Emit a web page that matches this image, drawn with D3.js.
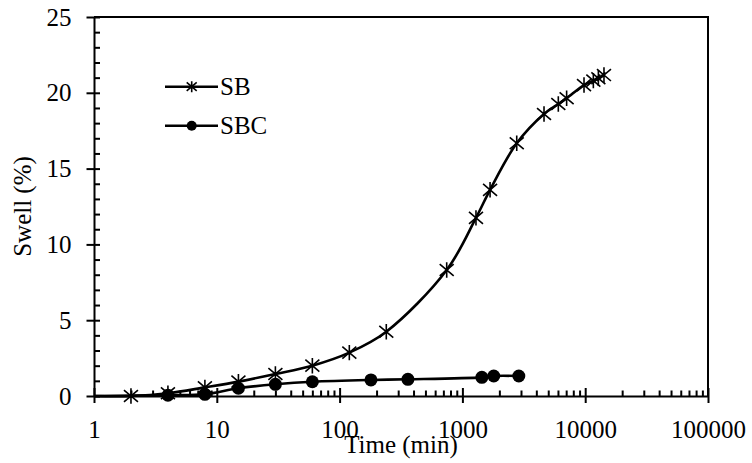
<!DOCTYPE html>
<html>
<head>
<meta charset="utf-8">
<script src="https://cdn.jsdelivr.net/npm/d3@7"></script>
<style>
  body { margin: 0; background: #fff; }
  svg text { font-family: 'Liberation Serif', 'Times New Roman', Tinos, 'DejaVu Serif', serif; fill: #000; }
</style>
</head>
<body>
<div id="vis"></div>
<script>
// values (time in min, swell in %)
const sbTime = [1, 2, 4, 8, 15, 30, 60, 120, 240, 745, 1290, 1680, 2770, 4620, 6040, 7060, 9780, 11650, 12800, 14220];
const sbSwell = [0, 0, 0.18, 0.57, 0.95, 1.45, 2.0, 2.86, 4.24, 8.31, 11.75, 13.6, 16.67, 18.6, 19.26, 19.64, 20.51, 20.8, 20.96, 21.17];
const sbcTime = [1, 4, 8, 15, 30, 60, 180, 360, 1440, 1800, 2880];
const sbcSwell = [0, 0.05, 0.11, 0.51, 0.77, 0.94, 1.06, 1.10, 1.23, 1.32, 1.32];

const xTicks = [1, 10, 100, 1000, 10000, 100000];
const yTicks = [0, 5, 10, 15, 20, 25];
const seriesNames = ["SB", "SBC"];

const serif = "Liberation Serif, Times New Roman, Tinos, DejaVu Serif, serif";

function createVis() {
  const width = 752;
  const height = 463;
  const margin = { top: 17, right: 44, bottom: 67, left: 94 };

  const svg = d3.select("#vis")
    .append("svg")
    .attr("width", width)
    .attr("height", height)
    .attr("viewBox", [0, 0, width, height])
    .attr("font-family", serif);

  const x = d3.scaleLog()
    .domain([1, 100000])
    .range([margin.left, width - margin.right]);

  const y = d3.scaleLinear()
    .domain([0, 25])
    .range([height - margin.bottom, margin.top]);

  const fontSize = 25;

  // frame: top and right border
  svg.append("path")
    .attr("d", `M${x(1)},${y(25)}H${x(100000)}V${y(0)}`)
    .attr("fill", "none")
    .attr("stroke", "#000")
    .attr("stroke-width", 2);

  // minor ticks
  const xMinor = [];
  for (let d = 1; d < 100000; d *= 10) {
    for (let k = 2; k <= 9; k++) xMinor.push(d * k);
  }
  svg.append("g")
    .attr("transform", `translate(0,${y(0)})`)
    .call(d3.axisBottom(x).tickValues(xMinor).tickSize(-5.5).tickSizeOuter(0).tickFormat(""))
    .call(g => g.select(".domain").remove())
    .call(g => g.selectAll("line").attr("stroke-width", 2));

  const yMinor = d3.range(0, 26).filter(v => v % 5 !== 0);
  svg.append("g")
    .attr("transform", `translate(${x(1)},0)`)
    .call(d3.axisLeft(y).tickValues(yMinor).tickSize(-6).tickSizeOuter(0).tickFormat(""))
    .call(g => g.select(".domain").remove())
    .call(g => g.selectAll("line").attr("stroke-width", 2));

  // major axes
  const xAxis = svg.append("g")
    .attr("transform", `translate(0,${y(0)})`)
    .call(d3.axisBottom(x).tickValues(xTicks).tickSize(7).tickSizeOuter(0).tickPadding(17)
      .tickFormat(d3.format("d")))
    .attr("font-family", serif);
  xAxis.selectAll("line").attr("y1", -8).attr("stroke-width", 2);
  xAxis.select(".domain").attr("stroke-width", 2);
  xAxis.selectAll("text")
    .attr("font-size", fontSize)
    .attr("fill", "#000");

  const yAxis = svg.append("g")
    .attr("transform", `translate(${x(1)},0)`)
    .call(d3.axisLeft(y).tickValues(yTicks).tickSize(7.5).tickSizeOuter(0).tickPadding(15))
    .attr("font-family", serif);
  yAxis.selectAll("line").attr("x1", 6).attr("stroke-width", 2);
  yAxis.select(".domain").attr("stroke-width", 2);
  yAxis.selectAll("text")
    .attr("font-size", fontSize)
    .attr("fill", "#000");

  // axis titles
  svg.append("text")
    .attr("x", (x(1) + x(100000)) / 2)
    .attr("y", 453)
    .attr("text-anchor", "middle")
    .attr("font-size", fontSize)
    .text("Time (min)");

  svg.append("text")
    .attr("transform", `translate(31,${(y(0) + y(25)) / 2}) rotate(-90)`)
    .attr("text-anchor", "middle")
    .attr("font-size", fontSize)
    .text("Swell (%)");

  const line = d3.line()
    .x(d => x(d.t))
    .y(d => y(d.v))
    .curve(d3.curveCatmullRom);

  const sb = sbTime.map((t, i) => ({ t: t, v: sbSwell[i] }));
  const sbc = sbcTime.map((t, i) => ({ t: t, v: sbcSwell[i] }));

  function star(g, s) {
    g.append("path")
      .attr("d", `M${-s},${-s * 0.85}L${s},${s * 0.85}M${-s},${s * 0.85}L${s},${-s * 0.85}M0,${-s * 1.1}V${s * 1.1}`)
      .attr("fill", "none")
      .attr("stroke", "#000")
      .attr("stroke-width", 1.6);
  }

  svg.append("path")
    .datum(sbc)
    .attr("d", line)
    .attr("fill", "none")
    .attr("stroke", "#000")
    .attr("stroke-width", 2.6);

  svg.append("path")
    .datum(sb)
    .attr("d", line)
    .attr("fill", "none")
    .attr("stroke", "#000")
    .attr("stroke-width", 2.6);

  // first point (t = 1) has no marker
  svg.append("g")
    .selectAll("circle")
    .data(sbc.filter(d => d.t > 1))
    .join("circle")
    .attr("cx", d => x(d.t))
    .attr("cy", d => y(d.v))
    .attr("r", 6.5)
    .attr("fill", "#000");

  svg.append("g")
    .selectAll("g")
    .data(sb.filter(d => d.t > 1))
    .join("g")
    .attr("transform", d => `translate(${x(d.t)},${y(d.v)})`)
    .each(function () { star(d3.select(this), 7); });

  // legend
  const legend = svg.append("g");
  const legendY = [86.7, 125.7];
  seriesNames.forEach((name, i) => {
    const row = legend.append("g").attr("transform", `translate(0,${legendY[i]})`);
    row.append("line")
      .attr("x1", 165).attr("x2", 218)
      .attr("stroke", "#000")
      .attr("stroke-width", 2.6);
    if (i === 0) {
      const m = row.append("g").attr("transform", "translate(191.7,0)");
      star(m, 5);
    } else {
      row.append("circle").attr("cx", 191.7).attr("r", 5).attr("fill", "#000");
    }
    row.append("text")
      .attr("x", 220)
      .attr("dy", "0.35em")
      .attr("font-size", fontSize)
      .text(name);
  });
}

window.addEventListener("load", createVis);
</script>
</body>
</html>
